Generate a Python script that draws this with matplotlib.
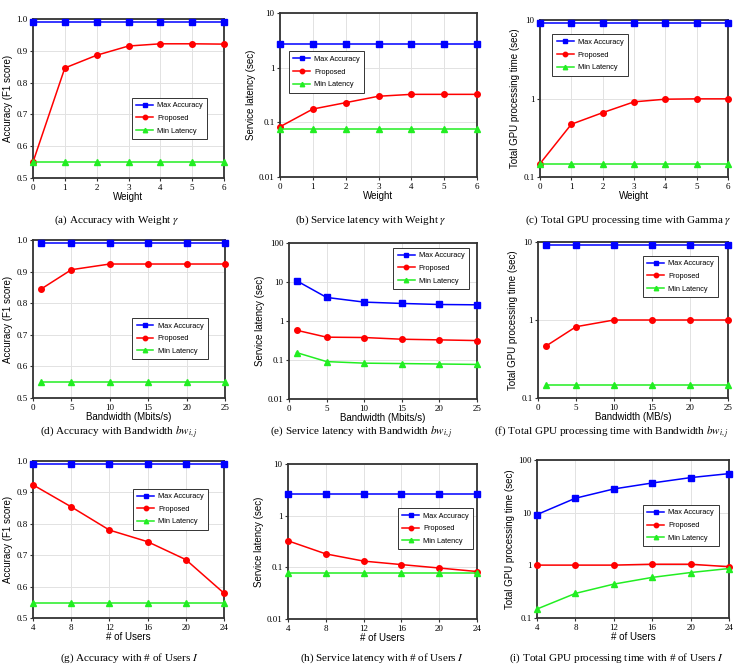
import numpy as np
import matplotlib
matplotlib.use("Agg")
import matplotlib.pyplot as plt
from matplotlib.ticker import FixedLocator, FixedFormatter, NullLocator

plt.rcParams['mathtext.fontset'] = 'stix'

# ---- data ----
weight = [0, 1, 2, 3, 4, 5, 6]
bandwidth = [1, 5, 10, 15, 20, 25]
users = [4, 8, 12, 16, 20, 24]

acc_w_max = [0.99] * 7
acc_w_prop = [0.55, 0.846, 0.886, 0.915, 0.922, 0.922, 0.921]
acc_w_min = [0.55] * 7

lat_w_max = [2.7] * 7
lat_w_prop = [0.083, 0.175, 0.229, 0.30, 0.325, 0.325, 0.325]
lat_w_min = [0.077] * 7

gpu_w_max = [9.06] * 7
gpu_w_prop = [0.148, 0.47, 0.66, 0.906, 0.98, 0.99, 0.99]
gpu_w_min = [0.145] * 7

acc_b_max = [0.99] * 6
acc_b_prop = [0.844, 0.906, 0.924, 0.924, 0.924, 0.924]
acc_b_min = [0.55] * 6

lat_b_max = [10.8, 4.02, 3.05, 2.82, 2.65, 2.6]
lat_b_prop = [0.58, 0.385, 0.377, 0.341, 0.328, 0.315]
lat_b_min = [0.155, 0.091, 0.083, 0.081, 0.079, 0.077]

gpu_b_max = [9.25] * 6
gpu_b_prop = [0.46, 0.82, 1.0, 1.0, 1.0, 1.0]
gpu_b_min = [0.145] * 6

acc_u_max = [0.99] * 6
acc_u_prop = [0.924, 0.854, 0.78, 0.743, 0.686, 0.579]
acc_u_min = [0.549] * 6

lat_u_max = [2.66] * 6
lat_u_prop = [0.326, 0.182, 0.132, 0.113, 0.097, 0.083]
lat_u_min = [0.078] * 6

gpu_u_max = [9.2, 18.8, 28.2, 36.6, 46.3, 55.1]
gpu_u_prop = [1.01, 1.01, 1.01, 1.05, 1.05, 0.94]
gpu_u_min = [0.148, 0.293, 0.44, 0.59, 0.73, 0.87]

captions = [
    r"(a) Accuracy with Weight $\gamma$",
    r"(b) Service latency with Weight $\gamma$",
    r"(c) Total GPU processing time with Gamma $\gamma$",
    r"(d) Accuracy with Bandwidth $bw_{i,j}$",
    r"(e) Service latency with Bandwidth $bw_{i,j}$",
    r"(f) Total GPU processing time with Bandwidth $bw_{i,j}$",
    r"(g) Accuracy with # of Users $I$",
    r"(h) Service latency with # of Users $I$",
    r"(i) Total GPU processing time with # of Users $I$",
]

W, H = 736, 665
fig = plt.figure(figsize=(W / 100, H / 100), dpi=100)

SANS = 'Liberation Sans'
SERIF = 'Liberation Serif'


def make_ax(l, r, t, b):
    return fig.add_axes([l / W, 1 - b / H, (r - l) / W, (b - t) / H])


def draw(ax, x, ymax, yprop, ymin, xlabel, ylabel, kind, xticks, xlim, leg_center):
    ax.plot(x, ymax, '-s', color='#0000ff', ms=4, lw=1.1, label='Max Accuracy', clip_on=False, zorder=5)
    ax.plot(x, yprop, '-o', color='#ff0000', ms=4, lw=1.1, label='Proposed', clip_on=False, zorder=5)
    ax.plot(x, ymin, '-^', color='#22ee22', ms=4, lw=1.1, label='Min Latency', clip_on=False, zorder=5)
    ax.set_xlim(*xlim)
    ax.xaxis.set_major_locator(FixedLocator(xticks))
    ax.set_xticklabels([str(v) for v in xticks])
    if kind == 'acc':
        ax.set_ylim(0.5, 1.0)
        yt = [0.5, 0.6, 0.7, 0.8, 0.9, 1.0]
        ax.yaxis.set_major_locator(FixedLocator(yt))
        ax.set_yticklabels(['%.1f' % v for v in yt])
    else:
        ax.set_yscale('log')
        lo, hi = kind
        ax.set_ylim(lo, hi)
        yt = [v for v in [0.01, 0.1, 1, 10, 100] if lo <= v <= hi]
        ax.yaxis.set_major_locator(FixedLocator(yt))
        ax.yaxis.set_major_formatter(FixedFormatter([('%g' % v) for v in yt]))
        ax.yaxis.set_minor_locator(NullLocator())
    ax.grid(True, color='#e2e2e2', lw=0.7)
    ax.set_axisbelow(True)
    for s in ax.spines.values():
        s.set_linewidth(1.3)
        s.set_color('#333333')
    ax.tick_params(labelsize=6.5, length=2.5, width=0.8, pad=1.5, color='#333333')
    for lab in ax.get_xticklabels() + ax.get_yticklabels():
        lab.set_fontfamily(SERIF)
    ax.set_xlabel(xlabel, fontsize=7, family=SANS, labelpad=0.5)
    ax.set_ylabel(ylabel, fontsize=7, family=SANS, labelpad=2)
    leg = ax.legend(loc='center', bbox_to_anchor=leg_center,
                    prop={'family': SANS, 'size': 5.3}, fancybox=False,
                    edgecolor='#333333', framealpha=1, handlelength=2.3,
                    handletextpad=0.55, labelspacing=0.75, borderpad=0.6,
                    markerscale=0.8)
    leg.get_frame().set_linewidth(0.7)


acc_lab = 'Accuracy (F1 score)'
lat_lab = 'Service latency (sec)'
gpu_lab = 'Total GPU processing time (sec)'

ax = make_ax(33, 224, 19, 178)
draw(ax, weight, acc_w_max, acc_w_prop, acc_w_min, 'Weight', acc_lab, 'acc', weight, (0, 6), (0.715, 0.375))
ax = make_ax(280, 477, 13, 177)
draw(ax, weight, lat_w_max, lat_w_prop, lat_w_min, 'Weight', lat_lab, (0.01, 10), weight, (0, 6), (0.237, 0.64))
ax = make_ax(540, 728, 20, 177)
draw(ax, weight, gpu_w_max, gpu_w_prop, gpu_w_min, 'Weight', gpu_lab, (0.1, 10), weight, (0, 6), (0.266, 0.777))

bt = [0, 5, 10, 15, 20, 25]
ax = make_ax(33, 225, 240, 398)
draw(ax, bandwidth, acc_b_max, acc_b_prop, acc_b_min, 'Bandwidth (Mbits/s)', acc_lab, 'acc', bt, (0, 25), (0.713, 0.375))
ax = make_ax(289, 477, 243, 399)
draw(ax, bandwidth, lat_b_max, lat_b_prop, lat_b_min, 'Bandwidth (Mbits/s)', lat_lab, (0.01, 100), bt, (0, 25), (0.755, 0.838))
ax = make_ax(538, 728, 242, 398)
draw(ax, bandwidth, gpu_b_max, gpu_b_prop, gpu_b_min, 'Bandwidth (MB/s)', gpu_lab, (0.1, 10), bt, (0, 25), (0.751, 0.78))

ax = make_ax(33, 224, 461, 618)
draw(ax, users, acc_u_max, acc_u_prop, acc_u_min, '# of Users', acc_lab, 'acc', users, (4, 24), (0.72, 0.693))
ax = make_ax(288, 477, 464, 619)
draw(ax, users, lat_u_max, lat_u_prop, lat_u_min, '# of Users', lat_lab, (0.01, 10), users, (4, 24), (0.78, 0.582))
ax = make_ax(537, 729, 460, 618)
draw(ax, users, gpu_u_max, gpu_u_prop, gpu_u_min, '# of Users', gpu_lab, (0.1, 100), users, (4, 24), (0.749, 0.585))

cap_pos = [(117, 220), (371, 220), (628, 220),
           (119, 432), (361, 432), (611, 432),
           (129, 658), (382, 658), (616, 658)]
for (cx, cy), txt in zip(cap_pos, captions):
    fig.text(cx / W, 1 - cy / H, txt, ha='center', va='center', fontsize=8, family=SERIF)

fig.savefig('out.png', dpi=100)
